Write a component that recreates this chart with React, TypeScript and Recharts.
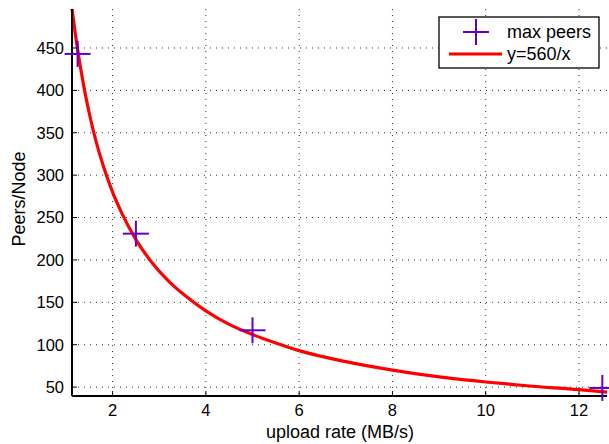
import React from 'react';
import { ComposedChart, Line, Scatter, XAxis, YAxis, CartesianGrid, Legend } from 'recharts';

// measured points (upload rate in MB/s vs max peers per node)
const peerRates = [1.25, 2.5, 5, 12.5];
const maxPeers = [443, 231, 117, 49];

// fitted curve y=560/x
const curveRates = [1.13, 1.2, 1.3, 1.4, 1.5, 1.65, 1.8, 2, 2.2, 2.5, 2.8, 3.2, 3.6, 4, 4.5, 5, 5.5, 6, 7, 8, 9, 10, 11, 12, 12.6];
const curvePeers = [496, 467, 431, 400, 373, 339, 311, 280, 255, 224, 200, 175, 156, 140, 124, 112, 102, 93, 80, 70, 62, 56, 51, 47, 44];

const xTicks = [2, 4, 6, 8, 10, 12];
const yTicks = [50, 100, 150, 200, 250, 300, 350, 400, 450];

const FONT = '"Liberation Sans", Arial, Helvetica, sans-serif';
const PURPLE = '#6000c8';
const RED = '#ff0000';
const TICK_LEN = 5;
const LABEL_GAP = 8;

const pointData = peerRates.map((x, i) => ({ x, y: maxPeers[i] }));
const curveData = curveRates.map((x, i) => ({ x, y: curvePeers[i] }));

const BottomTick = ({ x, y, payload }: any) => (
  <g>
    <line x1={x} x2={x} y1={y - LABEL_GAP} y2={y - LABEL_GAP - TICK_LEN} stroke="#000" />
    <text x={x} y={y} dy="0.74em" textAnchor="middle" fontSize={16.5} fill="#000" fontFamily={FONT}>
      {payload.value}
    </text>
  </g>
);

const LeftTick = ({ x, y, payload }: any) => (
  <g>
    <line x1={x + LABEL_GAP} x2={x + LABEL_GAP + TICK_LEN} y1={y} y2={y} stroke="#000" />
    <text x={x} y={y} dy="0.355em" textAnchor="end" fontSize={16.5} fill="#000" fontFamily={FONT}>
      {payload.value}
    </text>
  </g>
);

const TopTick = ({ x, y }: any) => <line x1={x} x2={x} y1={y} y2={y + TICK_LEN} stroke="#000" />;
const RightTick = ({ x, y }: any) => <line x1={x} x2={x - TICK_LEN} y1={y} y2={y} stroke="#000" />;

const Cross = ({ cx, cy }: any) => (
  <g stroke={PURPLE} strokeWidth={2}>
    <line x1={cx - 13} x2={cx + 13} y1={cy} y2={cy} />
    <line x1={cx} x2={cx} y1={cy - 13} y2={cy + 13} />
  </g>
);

const YLabel = () => (
  <text x={25} y={199} transform="rotate(-90, 25, 199)" textAnchor="middle" fontSize={18} fill="#000" fontFamily={FONT}>
    Peers/Node
  </text>
);

const XLabel = () => (
  <text x={340} y={438} textAnchor="middle" fontSize={18} fill="#000" fontFamily={FONT}>
    upload rate (MB/s)
  </text>
);

const LegendBox = ({ payload }: any) => (
  <svg width={162} height={53} style={{ display: 'block' }}>
    <rect x={1} y={1} width={160} height={51} fill="#fff" stroke="#000" strokeWidth={1.3} />
    {(payload || []).map((entry: any, i: number) => {
      const cy = 16 + i * 22;
      const isPoints = entry.value === 'max peers';
      return (
        <g key={entry.value}>
          {isPoints ? (
            <g stroke={PURPLE} strokeWidth={2}>
              <line x1={25} x2={51} y1={cy} y2={cy} />
              <line x1={38} x2={38} y1={cy - 13} y2={cy + 13} />
            </g>
          ) : (
            <line x1={11} x2={64} y1={cy} y2={cy} stroke={RED} strokeWidth={3} />
          )}
          <text x={69} y={cy + 6} fontSize={18} fill="#000" fontFamily={FONT}>
            {entry.value}
          </text>
        </g>
      );
    })}
  </svg>
);

export default function App() {
  return (
    <div style={{ position: 'absolute', left: 0, top: 0, background: '#fff' }}>
      <ComposedChart width={609} height={444} margin={{ top: 9, right: 2, bottom: 0, left: 0 }}>
        <CartesianGrid
          xAxisId="b"
          yAxisId="l"
          stroke="#333"
          strokeDasharray="1 5"
          verticalValues={xTicks}
          horizontalValues={yTicks}
        />
        <XAxis
          xAxisId="b"
          type="number"
          dataKey="x"
          domain={[1.13, 12.6]}
          ticks={xTicks}
          interval={0}
          height={48}
          tickSize={0}
          tickMargin={LABEL_GAP}
          tick={<BottomTick />}
          axisLine={{ stroke: '#000', strokeWidth: 2 }}
          label={<XLabel />}
        />
        <XAxis
          xAxisId="t"
          orientation="top"
          type="number"
          dataKey="x"
          domain={[1.13, 12.6]}
          ticks={xTicks}
          interval={0}
          height={0}
          tickSize={0}
          tickMargin={0}
          tick={<TopTick />}
          axisLine={{ stroke: '#000', strokeWidth: 1.3 }}
        />
        <YAxis
          yAxisId="l"
          type="number"
          domain={[39.5, 496]}
          ticks={yTicks}
          interval={0}
          width={72}
          tickSize={0}
          tickMargin={LABEL_GAP}
          tick={<LeftTick />}
          axisLine={{ stroke: '#000', strokeWidth: 2 }}
          label={<YLabel />}
        />
        <YAxis
          yAxisId="r"
          orientation="right"
          type="number"
          domain={[39.5, 496]}
          ticks={yTicks}
          interval={0}
          width={0}
          tickSize={0}
          tickMargin={0}
          tick={<RightTick />}
          axisLine={{ stroke: '#000', strokeWidth: 1.3 }}
        />
        <Line
          xAxisId="b"
          yAxisId="l"
          data={curveData}
          dataKey="y"
          name="y=560/x"
          type="monotone"
          stroke={RED}
          strokeWidth={3.2}
          dot={false}
          activeDot={false}
          isAnimationActive={false}
        />
        <Scatter
          xAxisId="b"
          yAxisId="l"
          data={pointData}
          dataKey="y"
          name="max peers"
          fill={PURPLE}
          shape={<Cross />}
          isAnimationActive={false}
        />
        <Legend
          layout="vertical"
          align="center"
          verticalAlign="middle"
          content={<LegendBox />}
          wrapperStyle={{ left: 438, top: 16, width: 162, height: 53 }}
        />
      </ComposedChart>
    </div>
  );
}
